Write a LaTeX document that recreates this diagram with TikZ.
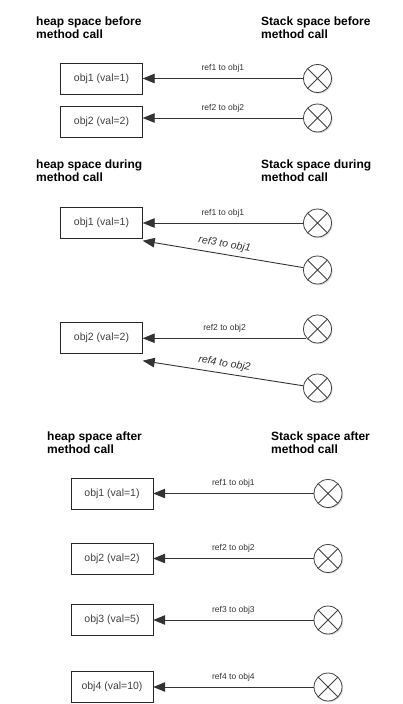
\documentclass[tikz,border=0pt]{standalone}
\usepackage{fontspec}
\setmainfont{Liberation Sans}
\usetikzlibrary{arrows.meta,positioning,shadows}

\begin{document}
\begin{tikzpicture}[x=1pt,y=-1pt,node distance=216pt,on grid]

      \tikzset{obj/.style={draw=black!85,rectangle,minimum width=82pt,minimum height=31pt,inner sep=0pt,
          text=black!75,font=\fontsize{10.5}{12}\selectfont},
        refvar/.style={draw=black!75,circle,minimum size=28pt,inner sep=0pt,fill=white,line width=0.8pt,
          drop shadow={shadow xshift=1.2pt,shadow yshift=-1.2pt,opacity=0.25},
          path picture={\draw[black!75] (path picture bounding box.north west) -- (path picture bounding box.south east)
            (path picture bounding box.north east) -- (path picture bounding box.south west);}},
        title/.style={anchor=north west,align=left,inner sep=0pt,font=\bfseries\fontsize{12}{13}\selectfont},
        reflink/.style={black!80,line width=0.9pt,{Triangle[length=12pt,width=9.5pt]}-},
        lbl/.style={font=\fontsize{8.5}{9}\selectfont,text=black!80,above=2pt},
        slbl/.style={font=\itshape\fontsize{10.5}{11}\selectfont,text=black!80,sloped,above=1pt}}
      \useasboundingbox (0,0) rectangle (403,704);

      % before the call
      \node[title] (heapA) at (36,17) {heap space before\\method call};
      \node[title] (stackA) at (261,17) {Stack space before\\method call};
      \node[obj] (o11) at (101.5,78.5) {obj1 (val=1)};
      \node[obj] (o12) [below = 43pt of o11] {obj2 (val=2)};
      \node[refvar] (c11) [right = of o11] {};
      \node[refvar] (c12) [above right = 3.5pt and 216pt of o12] {};

      % during the call
      \node[title] (heapB) at (36,160) {heap space during\\method call};
      \node[title] (stackB) at (261,160) {Stack space during\\method call};
      \node[obj] (o21) at (101.5,223) {obj1 (val=1)};
      \node[obj] (o22) [below = 115pt of o21] {obj2 (val=2)};
      \node[refvar] (c21) [right = of o21] {};
      \node[refvar] (c23) [below = 47pt of c21] {};
      \node[refvar] (c22) [above right = 9pt and 216pt of o22] {};
      \node[refvar] (c24) [below = 59pt of c22] {};

      % after the call
      \node[title] (heapC) at (47,432) {heap space after\\method call};
      \node[title] (stackC) at (271,432) {Stack space after\\method call};
      \node[obj] (o31) at (112,493.5) {obj1 (val=1)};
      \node[obj] (o32) [below = 65pt of o31] {obj2 (val=2)};
      \node[obj] (o33) [below = 61.5pt of o32] {obj3 (val=5)};
      \node[obj] (o34) [below = 67pt of o33] {obj4 (val=10)};
      \node[refvar] (c31) [right = of o31] {};
      \node[refvar] (c32) [right = of o32] {};
      \node[refvar] (c33) [right = of o33] {};
      \node[refvar] (c34) [right = of o34] {};

      \path[reflink]
      (c11 -| o11.east)
      edge node [lbl] {ref1 to obj1} (c11)
      (c12 -| o12.east)
      edge node [lbl] {ref2 to obj2} (c12)
      (c21 -| o21.east)
      edge node [lbl] {ref1 to obj1} (c21)
      ([yshift=-2pt]o21.south east)
      edge node [slbl] {ref3 to obj1} (c23)
      (c22.220 -| o22.east)
      edge node [lbl] {ref2 to obj2} (c22.220)
      ([yshift=-7pt]o22.south east)
      edge node [slbl] {ref4 to obj2} (c24)
      (c31 -| o31.east)
      edge node [lbl] {ref1 to obj1} (c31)
      (c32 -| o32.east)
      edge node [lbl] {ref2 to obj2} (c32)
      (c33 -| o33.east)
      edge node [lbl] {ref3 to obj3} (c33)
      (c34 -| o34.east)
      edge node [lbl] {ref4 to obj4} (c34)
      ;
    \end{tikzpicture}
\end{document}
